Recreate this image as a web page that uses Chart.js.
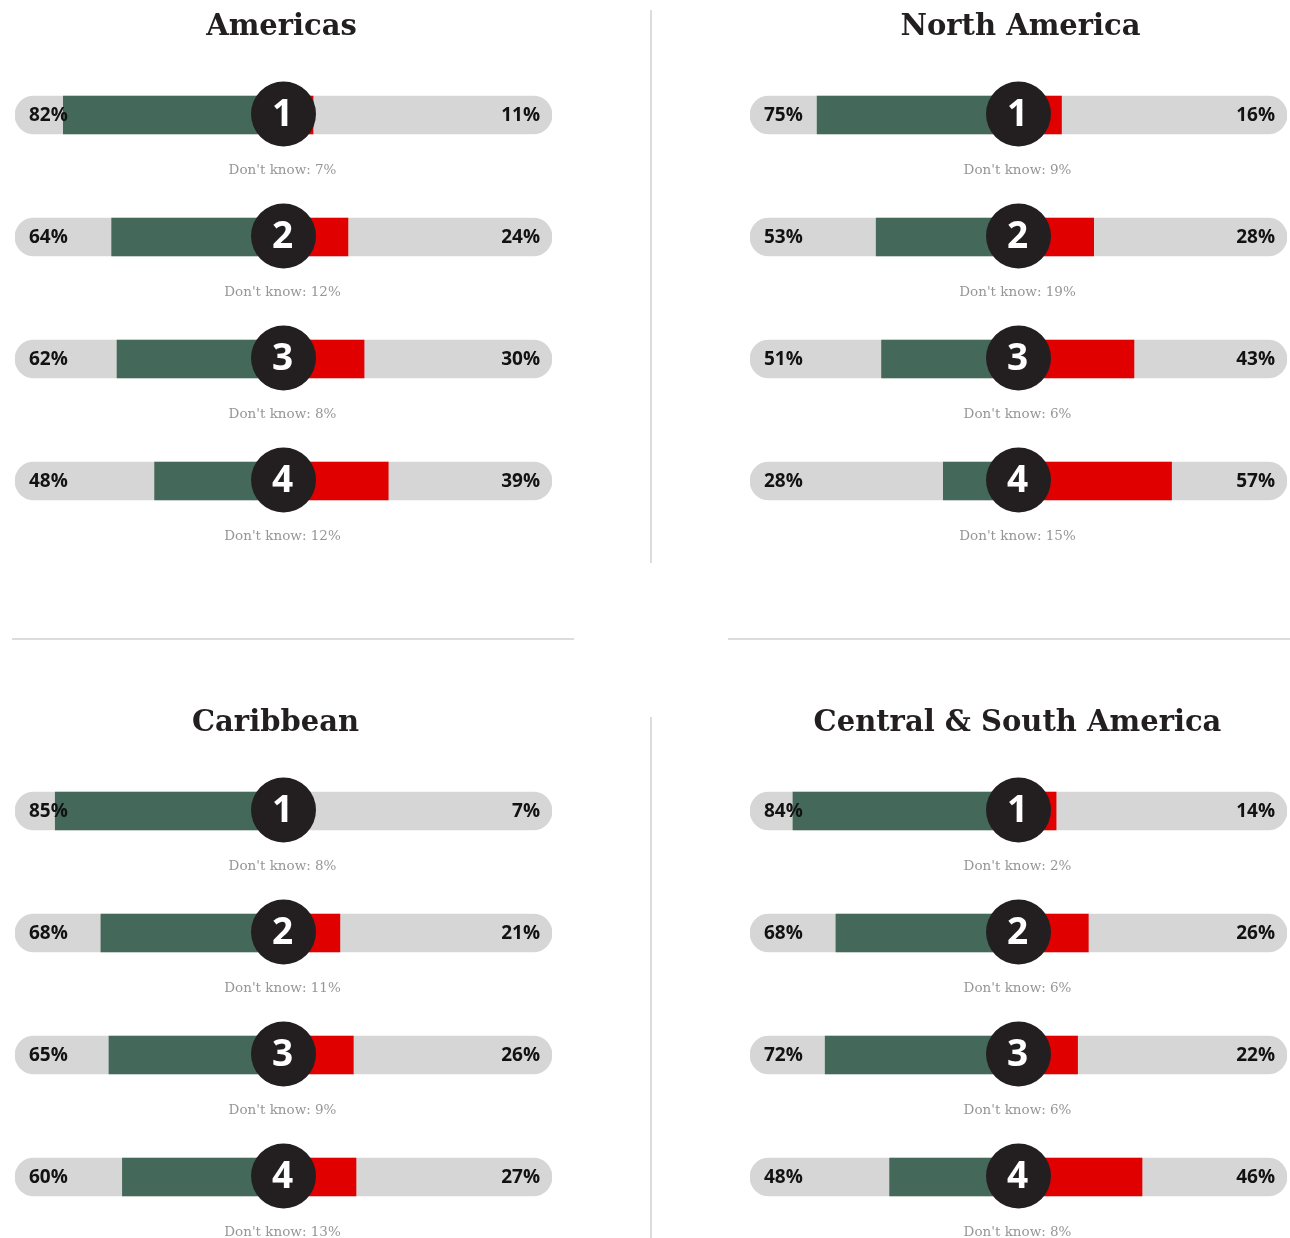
<!DOCTYPE html>
<html>
<head>
<meta charset="utf-8">
<script src="https://cdn.jsdelivr.net/npm/chart.js@4/dist/chart.umd.min.js"></script>
<style>
  body { margin: 0; background: #fff; width: 1290px; height: 1238px; position: relative; overflow: hidden; }
  canvas { position: absolute; }
  .rule { position: absolute; background: #dcdcdc; }
</style>
</head>
<body>
<canvas id="americas" width="570" height="570" style="left:0;top:0"></canvas>
<canvas id="northAmerica" width="555" height="570" style="left:735px;top:0"></canvas>
<canvas id="caribbean" width="570" height="558" style="left:0;top:680px"></canvas>
<canvas id="centralSouth" width="555" height="558" style="left:735px;top:680px"></canvas>

<div class="rule" style="left:650px;top:10px;width:2px;height:553px"></div>
<div class="rule" style="left:650px;top:717px;width:2px;height:521px"></div>
<div class="rule" style="left:12px;top:638px;width:562px;height:2px"></div>
<div class="rule" style="left:728px;top:638px;width:562px;height:2px"></div>

<script>
// question rows
const rows = ["1", "2", "3", "4"];

// share agreeing (green), disagreeing (red), don't know
const americasAgree = [82, 64, 62, 48];
const americasDisagree = [11, 24, 30, 39];
const americasDontKnow = [7, 12, 8, 12];

const northAgree = [75, 53, 51, 28];
const northDisagree = [16, 28, 43, 57];
const northDontKnow = [9, 19, 6, 15];

const caribbeanAgree = [85, 68, 65, 60];
const caribbeanDisagree = [7, 21, 26, 27];
const caribbeanDontKnow = [8, 11, 9, 13];

const centralAgree = [84, 68, 72, 48];
const centralDisagree = [14, 26, 22, 46];
const centralDontKnow = [2, 6, 6, 8];

const fullScale = 100;

const labelsPlugin = {
  id: "rowLabels",
  afterDatasetsDraw(chart, args, opts) {
    const ctx = chart.ctx;
    const xs = chart.scales.x;
    const ys = chart.scales.y;
    const area = chart.chartArea;
    const x0 = xs.getPixelForValue(0);

    ctx.save();
    // title
    ctx.fillStyle = "#231f20";
    ctx.font = "bold 29px 'DejaVu Serif'";
    ctx.textAlign = "center";
    ctx.textBaseline = "middle";
    ctx.fillText(opts.title, x0 + opts.titleShift, area.top - opts.titleGap);

    rows.forEach((r, i) => {
      const y = ys.getPixelForValue(i);

      ctx.beginPath();
      ctx.arc(x0, y - 1, 32.5, 0, Math.PI * 2);
      ctx.fillStyle = "#231f20";
      ctx.fill();

      ctx.fillStyle = "#fff";
      ctx.font = "bold 37px 'Open Sans'";
      ctx.textAlign = "center";
      ctx.fillText(r, x0 - 1, y);

      ctx.fillStyle = "#121212";
      ctx.font = "bold 19px 'Open Sans'";
      ctx.textAlign = "left";
      ctx.fillText(opts.agree[i] + "%", area.left + 14, y + 1);
      ctx.textAlign = "right";
      ctx.fillText(opts.disagree[i] + "%", area.right - 12, y + 1);

      ctx.fillStyle = "#969696";
      ctx.font = "13.5px 'DejaVu Serif'";
      ctx.textAlign = "center";
      ctx.fillText("Don't know: " + opts.dontKnow[i] + "%", x0 - 1, y + 55);
    });
    ctx.restore();
  }
};

function makePanel(id, title, agree, disagree, dontKnow, pad, titleGap, titleShift) {
  new Chart(document.getElementById(id), {
    type: "bar",
    data: {
      labels: rows,
      datasets: [
        {
          data: rows.map(() => [-fullScale, fullScale]),
          backgroundColor: "#d6d6d6",
          borderRadius: 19,
          borderSkipped: false,
          order: 3
        },
        {
          data: agree.map(v => [-v, 0]),
          backgroundColor: "#44695a",
          order: 2
        },
        {
          data: disagree.map(v => [0, v]),
          backgroundColor: "#e00000",
          order: 1
        }
      ]
    },
    options: {
      indexAxis: "y",
      responsive: false,
      animation: false,
      layout: { padding: pad },
      datasets: { bar: { grouped: false, barThickness: 38 } },
      scales: {
        x: { type: "linear", min: -fullScale, max: fullScale, display: false },
        y: { display: false }
      },
      plugins: {
        legend: { display: false },
        tooltip: { enabled: false },
        rowLabels: { title, agree, disagree, dontKnow, titleGap, titleShift }
      }
    },
    plugins: [labelsPlugin]
  });
}

makePanel("americas", "Americas", americasAgree, americasDisagree, americasDontKnow,
  { left: 15, right: 18, top: 54, bottom: 28 }, 27, -2);
makePanel("northAmerica", "North America", northAgree, northDisagree, northDontKnow,
  { left: 15, right: 3, top: 54, bottom: 28 }, 27, 2);
makePanel("caribbean", "Caribbean", caribbeanAgree, caribbeanDisagree, caribbeanDontKnow,
  { left: 15, right: 18, top: 70, bottom: 0 }, 27, -8);
makePanel("centralSouth", "Central & South America", centralAgree, centralDisagree, centralDontKnow,
  { left: 15, right: 3, top: 70, bottom: 0 }, 27, -1);
</script>
</body>
</html>
